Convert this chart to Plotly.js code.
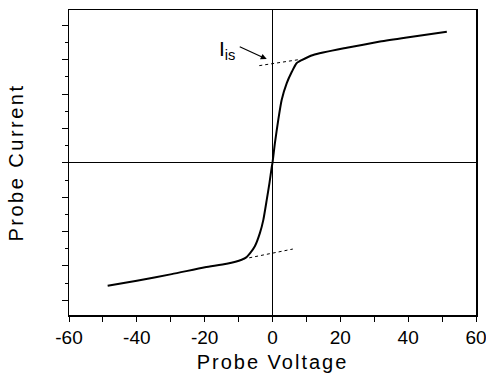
<!DOCTYPE html>
<html>
<head>
<meta charset="utf-8">
<script src="https://cdn.plot.ly/plotly-3.0.1.min.js"></script>
<style>
  html, body { margin: 0; padding: 0; background: #fff; }
  #chart { width: 486px; height: 381px; }
  .xtitle { letter-spacing: 2px; }
  .ytitle { letter-spacing: 2.5px; }
</style>
</head>
<body>
<div id="chart"></div>
<script>
// Probe I-V characteristic
const voltage = [-48.6, -40.0, -29.7, -19.9, -13.5, -9.1, -7.6, -6.6, -5.2, -3.7, -2.7, -1.7, -0.9, -0.2, 0.0, 0.7, 1.7, 2.7, 4.2, 5.7, 7.1, 8.6, 12.0, 21.9, 31.7, 39.6, 51.4];
const current = [-3.58, -3.43, -3.24, -3.04, -2.94, -2.82, -2.74, -2.63, -2.43, -2.04, -1.66, -1.08, -0.59, -0.11, 0.0, 0.57, 1.25, 1.83, 2.32, 2.65, 2.90, 2.99, 3.14, 3.35, 3.53, 3.65, 3.82];

// dashed extrapolation lines
const upperFitV = [-3.9, 8.1];
const upperFitI = [2.83, 3.01];
const lowerFitV = [-8.6, 6.0];
const lowerFitI = [-2.80, -2.51];

// arrow to the ion saturation current (tail -> head)
const arrowTailV = -10.1, arrowTailI = 3.40;
const arrowHeadV = -1.7, arrowHeadI = 3.02;
const labelV = -16.4, labelI = 3.28;

const xTickVals = [-60, -40, -20, 0, 20, 40, 60];
const xRange = [-60, 60];
const yRange = [-4.43, 4.45];

const fontFamily = '"Liberation Sans", Arial, sans-serif';

const traces = [
  { x: voltage, y: current, type: 'scatter', mode: 'lines',
    line: { color: '#000', width: 2, shape: 'spline', smoothing: 0.6 },
    hoverinfo: 'skip', showlegend: false },
  { x: upperFitV, y: upperFitI, type: 'scatter', mode: 'lines',
    line: { color: '#000', width: 1, dash: '3px,3px' }, showlegend: false },
  { x: lowerFitV, y: lowerFitI, type: 'scatter', mode: 'lines',
    line: { color: '#000', width: 1, dash: '3px,3px' }, showlegend: false }
];

const layout = {
  width: 486, height: 381,
  margin: { l: 69, r: 10, t: 10, b: 66 },
  paper_bgcolor: '#fff', plot_bgcolor: '#fff',
  font: { family: fontFamily, color: '#000', size: 19 },
  showlegend: false,
  xaxis: {
    range: xRange, tickvals: xTickVals, ticktext: xTickVals.map(String),
    ticklabeloverflow: 'allow',
    ticks: 'outside', ticklen: 5, tickwidth: 1, tickcolor: '#000',
    minor: { dtick: 10, ticks: 'outside', ticklen: 5, tickwidth: 1, tickcolor: '#000' },
    showline: true, linecolor: '#000', linewidth: 1.5, mirror: true,
    showgrid: false, zeroline: true, zerolinecolor: '#000', zerolinewidth: 1,
    tickfont: { size: 19, family: fontFamily },
    title: { text: 'Probe Voltage', font: { size: 20, family: fontFamily }, standoff: 7 }
  },
  yaxis: {
    range: yRange, dtick: 1, tick0: 0,
    ticks: 'outside', ticklen: 6, tickwidth: 1, tickcolor: '#000',
    minor: { dtick: 0.5, ticks: 'outside', ticklen: 3, tickwidth: 1, tickcolor: '#000' },
    showticklabels: false,
    showline: true, linecolor: '#000', linewidth: 1.5, mirror: true,
    showgrid: false, zeroline: true, zerolinecolor: '#000', zerolinewidth: 1,
    title: { text: '\u00a0\u00a0\u00a0\u00a0Probe Current', font: { size: 20, family: fontFamily }, standoff: 32 }
  },
  annotations: [
    { x: labelV, y: labelI, xref: 'x', yref: 'y', showarrow: false,
      text: 'I<sub>is</sub>', xanchor: 'left', yanchor: 'middle',
      font: { size: 21, family: fontFamily, color: '#000' } },
    { x: arrowHeadV, y: arrowHeadI, ax: arrowTailV, ay: arrowTailI,
      xref: 'x', yref: 'y', axref: 'x', ayref: 'y', text: '',
      showarrow: true, arrowhead: 2, arrowsize: 1, arrowwidth: 1.2, arrowcolor: '#000', standoff: 0 }
  ]
};

Plotly.newPlot('chart', traces, layout, { staticPlot: true, displayModeBar: false });
</script>
</body>
</html>
